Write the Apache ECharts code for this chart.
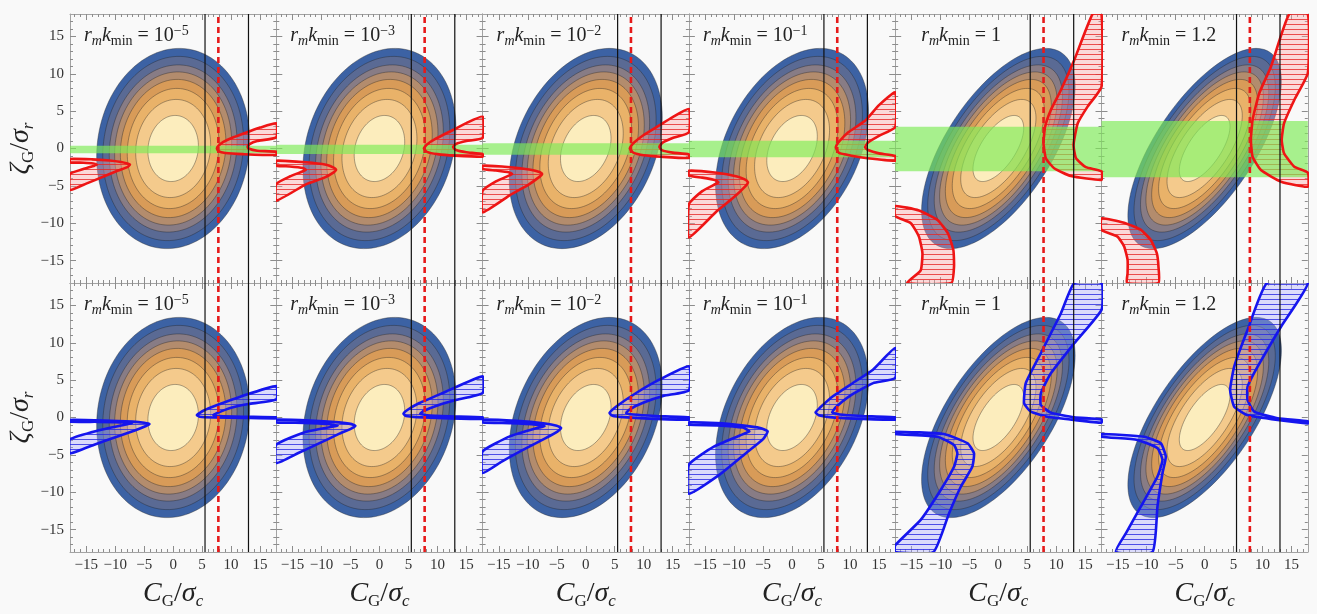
<!DOCTYPE html>
<html><head><meta charset="utf-8">
<script src="https://cdn.jsdelivr.net/npm/echarts@6/dist/echarts.min.js"></script>
<style>html,body{margin:0;padding:0;background:#f9f9f9;}#c{width:1317px;height:614px;}</style>
</head><body><div id="c"></div>
<script>
// ---------------- data ----------------
const X_TICKS = [-15, -10, -5, 0, 5, 10, 15];
const Y_TICKS = [-15, -10, -5, 0, 5, 10, 15];
const MINOR_TICKS = [-17,-16,-14,-13,-12,-11,-9,-8,-7,-6,-4,-3,-2,-1,1,2,3,4,6,7,8,9,11,12,13,14,16,17];
const X_RANGE = 17.8;
const Y_RANGE = 18;

// panel labels r_m k_min = base^exp
const KMIN_BASE = ['10', '10', '10', '10', '1', '1.2'];
const KMIN_EXP  = ['−5', '−3', '−2', '−1', '', ''];

// Gaussian contour ellipses (outer contour half-extent in x and y, correlation)
const ELLIPSE_SX  = [13.2, 13.2, 13.2, 13.2, 13.25, 13.25];
const ELLIPSE_SY  = [13.4, 13.4, 13.4, 13.4, 13.4, 13.4];
const ELLIPSE_RHO = [0.08, 0.20, 0.31, 0.37, 0.62, 0.67];
const CONTOUR_FRACTIONS = [1, 0.92, 0.835, 0.765, 0.69, 0.60, 0.49, 0.33];
const CONTOUR_COLORS = ['#3c62a4', '#5a6a94', '#887c85', '#b38c6d', '#d89b58', '#e9b269', '#f4ca8c', '#fcedbd'];

// vertical reference lines
const BLACK_LINES_X = [5.5, 13.0];
const RED_DASH_X = 7.8;

// green bands (top row): [low, high]
const GREEN_BANDS = [[-0.64, 0.37], [-0.74, 0.51], [-0.83, 0.70], [-1.18, 1.04], [-3.05, 2.92], [-3.85, 3.68]];

// red hatched regions (top row), each polygon: outer curve then inner curve reversed
const RED_REGIONS = [
  [ // 1e-5
    [[-17.8,-1.4],[-14,-1.45],[-11,-1.6],[-9,-1.8],[-7.9,-2.0],[-7.45,-2.15],[-7.9,-2.5],[-9.5,-2.95],[-12,-3.75],[-15,-4.7],[-17.8,-5.55],
     [-17.8,-3.4],[-15.5,-2.75],[-13.6,-2.3],[-13.2,-2.15],[-13.8,-2.0],[-15.5,-1.9],[-17.8,-1.85]],
    [[17.8,3.37],[15,2.8],[13,2.25],[10.4,1.5],[8.6,0.85],[7.8,0.35],[7.55,0],[7.8,-0.35],[9,-0.6],[12,-0.75],[17.8,-0.87],
     [17.8,-0.43],[14.5,-0.3],[13,0],[12.85,0.25],[13.2,0.6],[14.5,1.0],[17.8,1.5]]
  ],
  [ // 1e-3
    [[-17.8,-1.63],[-12.7,-1.85],[-9.2,-2.17],[-7.9,-2.55],[-7.48,-2.84],[-7.9,-3.2],[-9.5,-3.9],[-12.7,-4.8],[-17.8,-6.98],
     [-17.8,-4.75],[-15.5,-3.75],[-13.2,-3.05],[-12.7,-2.84],[-13.2,-2.6],[-15.5,-2.4],[-17.8,-2.3]],
    [[17.8,4.26],[15,3.4],[12.7,2.48],[9.8,1.35],[8.2,0.55],[7.67,0],[8.2,-0.45],[10,-0.75],[13,-0.95],[17.8,-1.1],
     [17.8,-0.75],[15,-0.5],[13.2,-0.2],[12.7,0.2],[13.2,0.6],[15,1.0],[17.8,1.4]]
  ],
  [ // 1e-2
    [[-17.8,-2.3],[-13,-2.5],[-9.5,-2.85],[-8,-3.15],[-7.53,-3.41],[-8,-3.8],[-10,-4.9],[-13,-6.2],[-17.8,-8.54],
     [-17.8,-5.65],[-15.5,-4.4],[-13.2,-3.6],[-12.7,-3.41],[-13.2,-3.2],[-15.5,-2.95],[-17.8,-2.75]],
    [[17.8,5.29],[15,4.2],[12.7,3.1],[10,1.8],[8.2,0.7],[7.6,0],[8.2,-0.55],[10,-0.9],[13,-1.1],[17.8,-1.27],
     [17.8,-0.8],[15,-0.55],[13.2,-0.25],[12.7,0.2],[13.2,0.75],[15,1.4],[17.8,2.17]]
  ],
  [ // 1e-1
    [[-17.8,-2.97],[-13,-3.25],[-9.5,-3.75],[-8,-4.2],[-7.6,-4.53],[-8,-5.0],[-10,-6.5],[-13,-8.4],[-17.8,-11.9],
     [-17.8,-7.43],[-15.5,-5.7],[-13.2,-4.75],[-12.7,-4.53],[-13.2,-4.25],[-15.5,-3.9],[-17.8,-3.64]],
    [[17.8,7.52],[15,5.8],[12.6,3.72],[9.7,2.17],[8.1,0.9],[7.56,0.16],[8.1,-0.6],[10.2,-0.96],[13,-1.3],[17.8,-1.63],
     [17.8,-1.0],[15,-0.65],[13.1,-0.2],[12.6,0.16],[13.1,0.8],[15,1.7],[17.8,2.84]]
  ],
  [ // 1
    [[-17.8,-7.7],[-13.7,-8.3],[-10.5,-9.57],[-8.7,-11.35],[-7.76,-13.6],[-7.65,-15.8],[-8.1,-18],
     [-15.7,-18],[-13.4,-16.3],[-13.1,-14.0],[-13.7,-11.8],[-15.1,-10.0],[-17.8,-9.04]],
    [[16.26,18],[13.1,11.85],[10.8,7.83],[9.06,5.15],[8.07,2.92],[7.79,0.7],[8.2,-1.3],[9.63,-2.65],[12.5,-3.68],[17.8,-4.2],
     [17.8,-3.06],[15.1,-2.5],[13.4,-1.3],[12.97,0.47],[13.7,3.37],[15.4,5.6],[17.8,8.27],[17.8,18]]
  ],
  [ // 1.2
    [[-17.8,-9.35],[-13.9,-9.93],[-11.0,-10.9],[-9.3,-12.25],[-8.26,-14.0],[-7.97,-15.8],[-7.97,-18],
     [-13.4,-18],[-13.3,-16.7],[-13.3,-14.9],[-13.9,-13.1],[-15.05,-11.8],[-17.8,-10.9]],
    [[14.6,18],[11.44,10.95],[9.42,7.39],[8.27,3.82],[7.98,1.14],[8.27,-1.1],[9.71,-2.88],[13.2,-4.44],[17.8,-5.1],
     [17.8,-3.24],[15.47,-2.43],[13.7,-0.64],[13.3,1.14],[13.7,3.37],[15.47,6.49],[17.8,10.07],[17.8,18]]
  ]
];

// blue hatched regions (bottom row)
const BLUE_REGIONS = [
  [ // 1e-5
    [[-17.8,-0.33],[-12,-0.4],[-7,-0.55],[-5,-0.7],[-4.1,-0.87],[-4.6,-1.1],[-6.5,-1.7],[-9.73,-2.57],[-13.5,-3.6],[-17.8,-4.8],
     [-17.8,-2.92],[-13,-1.75],[-8.5,-1.0],[-7.1,-0.78],[-8.5,-0.65],[-13,-0.58],[-17.8,-0.56]],
    [[17.8,4.2],[11.6,2.79],[7.6,1.67],[5.2,0.9],[4.1,0.33],[4.6,0.1],[7,0],[12,-0.05],[17.8,-0.11],
     [17.8,0.02],[12,0.1],[8,0.2],[6.96,0.33],[7.6,0.6],[10,1.3],[13,1.8],[17.8,2.43]]
  ],
  [ // 1e-3
    [[-17.8,-0.29],[-12,-0.4],[-7,-0.65],[-5,-0.85],[-4.15,-1.1],[-4.8,-1.45],[-7,-2.2],[-10.9,-3.64],[-14,-4.75],[-17.8,-6.09],
     [-17.8,-3.64],[-13,-2.0],[-8.6,-1.3],[-7.2,-1.1],[-8.6,-0.9],[-13,-0.72],[-17.8,-0.65]],
    [[17.8,5.5],[10.95,3.28],[6.9,1.94],[5,1.1],[4.15,0.51],[4.6,0.2],[6.5,0.05],[11,-0.1],[17.8,-0.2],
     [17.8,0.02],[12,0.15],[8.2,0.3],[7.03,0.51],[7.7,0.9],[10,1.6],[13,2.3],[17.8,3.28]]
  ],
  [ // 1e-2
    [[-17.8,-0.29],[-12,-0.45],[-7,-0.8],[-5,-1.1],[-4.25,-1.4],[-4.9,-1.9],[-7,-2.8],[-11,-4.4],[-14.5,-5.9],[-17.8,-7.43],
     [-17.8,-4.53],[-13,-2.5],[-8.6,-1.45],[-7.1,-1.18],[-8.6,-0.95],[-13,-0.75],[-17.8,-0.65]],
    [[17.8,6.85],[12.7,5.06],[8.7,3.28],[5.5,1.6],[4.1,0.6],[4.6,0.25],[6.5,0.05],[11,-0.15],[17.8,-0.29],
     [17.8,0.02],[12,0.2],[8.2,0.4],[6.98,0.6],[7.6,1.1],[10,2.0],[13.5,2.9],[17.8,3.64]]
  ],
  [ // 1e-1
    [[-17.8,-0.65],[-13,-0.75],[-8.7,-1.05],[-5.5,-1.4],[-4.2,-1.85],[-5,-2.9],[-7.9,-4.75],[-12.5,-7.65],[-17.8,-10.2],
     [-17.8,-6.3],[-13.5,-3.9],[-9,-2.4],[-7.36,-1.85],[-8.5,-1.35],[-13,-1.05],[-17.8,-0.96]],
    [[17.8,9.3],[13.96,6.4],[10.5,4.62],[7.05,2.84],[4.8,1.3],[4.05,0.69],[4.6,0.3],[6.5,0.05],[11,-0.15],[17.8,-0.29],
     [17.8,0.02],[12,0.2],[8.2,0.4],[6.93,0.69],[7.6,1.4],[10,2.9],[14,4.6],[17.8,5.29]]
  ],
  [ // 1
    [[-17.8,-1.9],[-9.4,-2.2],[-5.3,-3.45],[-4.2,-4.8],[-4.5,-6.6],[-6.5,-9.3],[-8.5,-12.8],[-11.2,-18],[-17.8,-18],
     [-17.8,-17.1],[-13.4,-13.7],[-9.95,-9.7],[-7.65,-6.6],[-7.07,-4.8],[-7.65,-3.68],[-10.5,-2.57],[-17.8,-2.2]],
    [[13.1,18],[10.8,13.95],[7.33,8.6],[4.73,4.58],[4.44,1.9],[5.6,0.78],[8.48,0.11],[13.1,-0.33],[17.8,-0.7],
     [17.8,-0.25],[13.1,0.02],[9.06,0.65],[7.33,1.67],[7.33,3.24],[9.06,5.91],[13.1,9.93],[17.8,14.4],[17.8,18]]
  ],
  [ // 1.2
    [[-17.8,-2.2],[-10.45,-2.57],[-7.57,-3.45],[-6.7,-5.25],[-7.28,-7.47],[-8.14,-11.9],[-9.0,-18],
     [-15.35,-18],[-13.6,-15.5],[-11.0,-11.9],[-8.14,-7.9],[-7.28,-5.7],[-8.14,-4.1],[-11.6,-3.0],[-17.8,-2.57]],
    [[10.75,18],[7.4,11.7],[5.1,6.8],[4.4,3.68],[5.1,1.45],[7.4,0.33],[12.6,-0.33],[17.8,-0.78],
     [17.8,-0.5],[12.6,-0.1],[8.56,0.78],[7.41,2.34],[7.41,4.12],[9.14,6.8],[13.17,12.15],[17.8,18]]
  ]
];

// ---------------- layout / styling ----------------
const GRID_LEFT = 70, GRID_TOP = 14, CELL_W = 206.3, CELL_H = 269;
const LABEL_OFFSET = [14, 14, 14, 14, 26, 20];
const SERIF = 'Liberation Serif';

function hatch(bg, line) {
  const c = document.createElement('canvas');
  c.width = 8; c.height = 5;
  const g = c.getContext('2d');
  g.fillStyle = bg; g.fillRect(0, 0, 8, 5);
  g.fillStyle = line; g.fillRect(0, 4, 8, 1);
  return { image: c, repeat: 'repeat' };
}
const RED_HATCH = hatch('rgba(255,165,165,0.38)', 'rgba(230,40,40,0.8)');
const BLUE_HATCH = hatch('rgba(170,170,255,0.38)', 'rgba(40,40,225,0.8)');

const fmt = v => (v < 0 ? '\u2212' + (-v) : String(v));

function axis(dim, gi, pos, major, labels) {
  const isX = dim === 'x';
  const range = isX ? X_RANGE : Y_RANGE;
  return {
    gridIndex: gi, type: 'value', position: pos, min: -range, max: range,
    axisLine: { show: major, onZero: false, lineStyle: { color: '#a3a3a3', width: 1 } },
    axisTick: { show: true, inside: true, length: major ? 6 : 3,
      customValues: major ? (isX ? X_TICKS : Y_TICKS) : MINOR_TICKS,
      lineStyle: { color: '#8c8c8c', width: 1 } },
    axisLabel: { show: labels, customValues: isX ? X_TICKS : Y_TICKS, formatter: fmt,
      fontFamily: SERIF, fontSize: 15, color: '#333', margin: 6 },
    splitLine: { show: false }
  };
}

const T = { fontFamily: SERIF, fontWeight: 'normal', color: '#222' };
const nameRich = {
  m: Object.assign({ fontStyle: 'italic', fontSize: 28, lineHeight: 32, verticalAlign: 'middle' }, T),
  u: Object.assign({ fontSize: 28, lineHeight: 32, verticalAlign: 'middle' }, T),
  sg: Object.assign({ fontSize: 17, lineHeight: 15, verticalAlign: 'bottom' }, T),
  si: Object.assign({ fontStyle: 'italic', fontSize: 17, lineHeight: 15, verticalAlign: 'bottom' }, T)
};
const labelRich = {
  i: Object.assign({ fontStyle: 'italic', fontSize: 20, lineHeight: 24, verticalAlign: 'middle' }, T),
  n: Object.assign({ fontSize: 20, lineHeight: 24, verticalAlign: 'middle' }, T),
  si: Object.assign({ fontStyle: 'italic', fontSize: 14, lineHeight: 12, verticalAlign: 'bottom' }, T),
  su: Object.assign({ fontSize: 14, lineHeight: 12, verticalAlign: 'bottom' }, T),
  sp: Object.assign({ fontSize: 14, lineHeight: 12, verticalAlign: 'top' }, T)
};

const grids = [], xAxes = [], yAxes = [], series = [], titles = [];

for (let r = 0; r < 2; r++) {
  for (let c = 0; c < 6; c++) {
    const gi = r * 6 + c;
    const left = GRID_LEFT + CELL_W * c, top = GRID_TOP + CELL_H * r;
    grids.push({ left, top, width: CELL_W, height: CELL_H, containLabel: false, outerBoundsMode: 'none' });
    const xi = xAxes.length, yi = yAxes.length;
    const bx = axis('x', gi, 'bottom', true, r === 1);
    if (r === 1) {
      bx.name = '{m|C}{sg|G}{u|/}{m|σ}{si|c}';
      bx.nameLocation = 'middle'; bx.nameGap = 26;
      bx.nameTextStyle = { rich: nameRich };
    }
    xAxes.push(bx, axis('x', gi, 'bottom', false, false), axis('x', gi, 'top', true, false), axis('x', gi, 'top', false, false));
    const ly = axis('y', gi, 'left', true, c === 0);
    if (c === 0) {
      ly.name = '{m|ζ}{sg|G}{u|/}{m|σ}{si|r}';
      ly.nameLocation = 'middle'; ly.nameGap = 33; ly.nameRotate = 90;
      ly.nameTextStyle = { rich: nameRich };
    }
    yAxes.push(ly, axis('y', gi, 'left', false, false), axis('y', gi, 'right', true, false), axis('y', gi, 'right', false, false));

    const rho = ELLIPSE_RHO[c], sx = ELLIPSE_SX[c], sy = ELLIPSE_SY[c];
    // contour ellipses
    series.push({
      type: 'custom', xAxisIndex: xi, yAxisIndex: yi, z: 1, silent: true, animation: false, clip: true,
      data: CONTOUR_FRACTIONS.map((f, k) => [f, k]),
      renderItem: (params, api) => {
        const f = api.value(0), k = api.value(1);
        const pts = [];
        const N = 120, q = Math.sqrt(1 - rho * rho);
        for (let j = 0; j < N; j++) {
          const t = 2 * Math.PI * j / N;
          pts.push(api.coord([f * sx * Math.cos(t), f * sy * (rho * Math.cos(t) + q * Math.sin(t))]));
        }
        return { type: 'polygon', shape: { points: pts },
          style: { fill: CONTOUR_COLORS[k], stroke: 'rgba(35,35,35,0.55)', lineWidth: 0.7 } };
      }
    });
    const regions = r === 0 ? RED_REGIONS[c] : BLUE_REGIONS[c];
    const pattern = r === 0 ? RED_HATCH : BLUE_HATCH;
    const stroke = r === 0 ? '#ee1515' : '#1515ee';
    // hatch fill
    series.push({
      type: 'custom', xAxisIndex: xi, yAxisIndex: yi, z: 2, silent: true, animation: false, clip: true,
      data: regions.map((_, k) => [k, 0]),
      renderItem: (params, api) => {
        const pts = regions[api.value(0)].map(p => api.coord(p));
        return { type: 'polygon', shape: { points: pts, smooth: 0.15 }, style: { fill: pattern, stroke: null } };
      }
    });
    // green band
    if (r === 0) {
      const band = GREEN_BANDS[c];
      series.push({
        type: 'custom', xAxisIndex: xi, yAxisIndex: yi, z: 3, silent: true, animation: false, clip: true,
        data: [[-X_RANGE, band[0], X_RANGE, band[1]]],
        renderItem: (params, api) => {
          const p1 = api.coord([api.value(0), api.value(3)]);
          const p2 = api.coord([api.value(2), api.value(1)]);
          return { type: 'rect', shape: { x: p1[0], y: p1[1], width: p2[0] - p1[0], height: p2[1] - p1[1] },
            style: { fill: 'rgba(125,235,85,0.66)' } };
        }
      });
    }
    // outline
    series.push({
      type: 'custom', xAxisIndex: xi, yAxisIndex: yi, z: 4, silent: true, animation: false, clip: true,
      data: regions.map((_, k) => [k, 0]),
      renderItem: (params, api) => {
        const pts = regions[api.value(0)].map(p => api.coord(p));
        return { type: 'polygon', shape: { points: pts, smooth: 0.15 },
          style: { fill: null, stroke: stroke, lineWidth: 2.6, lineJoin: 'round' } };
      }
    });
    // vertical lines
    BLACK_LINES_X.forEach(x => series.push({
      type: 'line', xAxisIndex: xi, yAxisIndex: yi, z: 5, silent: true, animation: false, showSymbol: false,
      data: [[x, -Y_RANGE], [x, Y_RANGE]], lineStyle: { color: '#111', width: 1.2 }
    }));
    series.push({
      type: 'line', xAxisIndex: xi, yAxisIndex: yi, z: 6, silent: true, animation: false, showSymbol: false,
      data: [[RED_DASH_X, -Y_RANGE], [RED_DASH_X, Y_RANGE]],
      lineStyle: { color: '#e61a1a', width: 2.6, type: [6, 4] }
    });

    titles.push({
      text: '{i|r}{si|m}{i|k}{su|min}{n| = ' + KMIN_BASE[c] + '}' + (KMIN_EXP[c] ? '{sp|' + KMIN_EXP[c] + '}' : ''),
      left: left + LABEL_OFFSET[c], top: top + 10, padding: 0,
      textStyle: Object.assign({ rich: labelRich }, T)
    });
  }
}

const chart = echarts.init(document.getElementById('c'), null, { renderer: 'canvas', width: 1317, height: 614 });
chart.setOption({
  backgroundColor: '#f9f9f9',
  animation: false,
  title: titles,
  grid: grids,
  xAxis: xAxes,
  yAxis: yAxes,
  series: series
});
</script>
</body></html>
